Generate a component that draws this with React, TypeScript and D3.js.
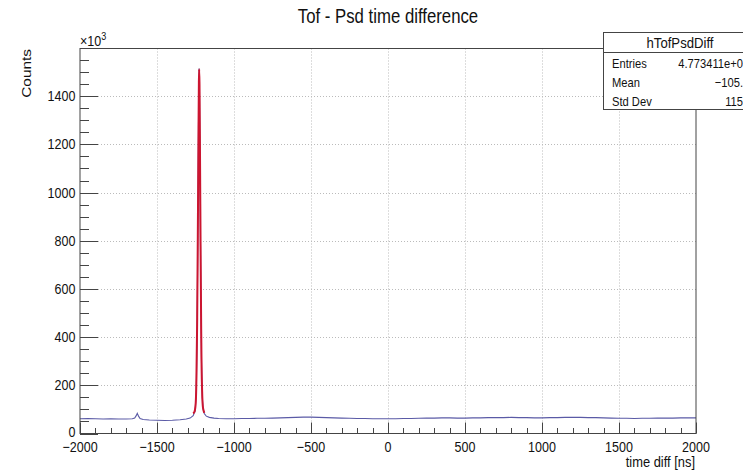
import * as d3 from "d3"
import type { ReactNode } from "react"

// histogram outline, counts in units of 10^3
const histTime = [
  -2000, -1950, -1900, -1850, -1800, -1750, -1700, -1660, -1645, -1635, -1628, -1620, -1610, -1590,
  -1550, -1500, -1450, -1400, -1350, -1310, -1285, -1265, -1252, -1245, -1240, -1236, -1232, -1229,
  -1227, -1225, -1222, -1219, -1215, -1211, -1206, -1200, -1192, -1180, -1160, -1130, -1100, -1050,
  -1000, -950, -900, -850, -800, -750, -700, -650, -600, -550, -500, -450, -400, -350, -300, -250,
  -200, -150, -100, -50, 0, 50, 100, 150, 200, 250, 300, 350, 400, 450, 500, 550, 600, 650, 700,
  750, 800, 850, 900, 950, 1000, 1050, 1100, 1150, 1200, 1250, 1300, 1350, 1400, 1450, 1500, 1550,
  1600, 1650, 1700, 1750, 1800, 1850, 1900, 1950, 2000,
]
const histCounts = [
  61, 62, 61, 60, 61, 60, 60, 61, 64, 74, 84, 72, 62, 58,
  56, 55, 54, 55, 57, 60, 64, 74, 95, 180, 380, 720, 1150, 1420,
  1515, 1490, 1250, 900, 560, 300, 150, 100, 82, 72, 67, 64, 62, 61,
  61, 62, 62, 63, 63, 64, 65, 66, 67, 68, 68, 67, 66, 65, 64, 63,
  62, 62, 61, 61, 61, 61, 62, 62, 63, 64, 64, 65, 65, 64, 64, 65, 65, 66, 66,
  66, 67, 66, 66, 65, 65, 66, 66, 67, 67, 67, 66, 66, 65, 64, 63, 63,
  62, 63, 63, 64, 64, 64, 65, 65, 65,
]

// fitted peak (red curve)
const fitTime = [-1266, -1258, -1250, -1244, -1239, -1235, -1231, -1228, -1226, -1224, -1221, -1217, -1213, -1208, -1201, -1193]
const fitCounts = [84, 88, 115, 230, 480, 820, 1200, 1460, 1512, 1450, 1180, 780, 430, 200, 105, 86]

const xTickValues = [-2000, -1500, -1000, -500, 0, 500, 1000, 1500, 2000]
const yTickValues = [0, 200, 400, 600, 800, 1000, 1200, 1400]

const statsLabels = ["Entries", "Mean", "Std Dev"]
const statsValues = ["4.773411e+0", "\u2212105.", "115"]

const W = 743
const H = 471
const frame = { left: 80, right: 696, top: 48.5, bottom: 433.5 }
const SQUEEZE = 0.86 // the original picture is squeezed horizontally

// text squeezed horizontally like the reference
function T({ x, y, size, anchor = "start", children }: {
  x: number; y: number; size: number; anchor?: string; children: ReactNode
}) {
  return (
    <text transform={`translate(${x},${y}) scale(${SQUEEZE},1)`} textAnchor={anchor} fontSize={size} fill="#111">
      {children}
    </text>
  )
}

export default function App() {
  const x = d3.scaleLinear().domain([-2000, 2000]).range([frame.left, frame.right])
  const y = d3.scaleLinear().domain([0, 1598]).range([frame.bottom, frame.top])

  const xMinor = d3.range(-2000, 2001, 100).filter(v => v % 500 !== 0)
  const yMinor = d3.range(0, 1598, 50).filter(v => v % 200 !== 0)

  const histLine = d3
    .line<number>()
    .x((_, i) => x(histTime[i]))
    .y(d => y(d))
  const fitLine = d3
    .line<number>()
    .x((_, i) => x(fitTime[i]))
    .y(d => y(d))
    .curve(d3.curveCatmullRom)

  const fmt = (v: number) => (v < 0 ? "\u2212" + Math.abs(v) : String(v))
  const px = (v: number) => Math.round(v) + 0.5

  return (
    <svg
      width={W}
      height={H}
      style={{ position: "absolute", left: 0, top: 0, background: "#fff" }}
      fontFamily="'Liberation Sans', Arial, sans-serif"
    >
      <rect width={W} height={H} fill="#fff" />

      {/* grid */}
      {xTickValues.slice(1, -1).map(v => (
        <line key={"gx" + v} x1={px(x(v))} x2={px(x(v))} y1={frame.top} y2={frame.bottom}
          stroke="#bbb" strokeDasharray="1,2" />
      ))}
      {yTickValues.slice(1).map(v => (
        <line key={"gy" + v} x1={frame.left} x2={frame.right} y1={px(y(v))} y2={px(y(v))}
          stroke="#bbb" strokeDasharray="1,2" />
      ))}

      {/* data */}
      <path d={histLine(histCounts) ?? ""} fill="none" stroke="#5a5aa6" strokeWidth={1.1} />
      <path d={fitLine(fitCounts) ?? ""} fill="none" stroke="#cc1530" strokeWidth={2} />

      {/* frame */}
      <rect x={frame.left} y={frame.top} width={frame.right - frame.left} height={frame.bottom - frame.top}
        fill="none" stroke="#444" strokeWidth={1} />

      {/* x ticks */}
      {xTickValues.map(v => (
        <line key={"xt" + v} x1={px(x(v))} x2={px(x(v))} y1={frame.bottom} y2={frame.bottom - 11} stroke="#444" />
      ))}
      {xMinor.map(v => (
        <line key={"xm" + v} x1={px(x(v))} x2={px(x(v))} y1={frame.bottom} y2={frame.bottom - 5.5} stroke="#444" />
      ))}
      {xTickValues.map(v => (
        <T key={"xl" + v} x={x(v)} y={452} anchor="middle" size={14.6}>{fmt(v)}</T>
      ))}

      {/* y ticks */}
      {yTickValues.map(v => (
        <line key={"yt" + v} x1={frame.left} x2={frame.left + 18} y1={px(y(v))} y2={px(y(v))} stroke="#444" />
      ))}
      {yMinor.map(v => (
        <line key={"ym" + v} x1={frame.left} x2={frame.left + 9} y1={px(y(v))} y2={px(y(v))} stroke="#444" />
      ))}
      {yTickValues.map(v => (
        <T key={"yl" + v} x={75.5} y={v === 0 ? y(v) + 3 : y(v) + 5} anchor="end" size={14.6}>{v}</T>
      ))}
      <T x={80} y={46} size={14.6}>
        ×10<tspan dy={-6} fontSize={10.5}>3</tspan>
      </T>

      {/* axis titles */}
      <T x={695} y={467} anchor="end" size={15}>time diff [ns]</T>
      <text transform={`translate(31,49) rotate(-90) scale(1,${SQUEEZE})`} textAnchor="end" fontSize={15.4} fill="#111">Counts</text>

      {/* title */}
      <T x={388} y={23} anchor="middle" size={19.5}>Tof - Psd time difference</T>

      {/* stats box */}
      <rect x={603.5} y={32.5} width={160} height={77} fill="#fff" stroke="#444" />
      <line x1={603.5} x2={743} y1={52.5} y2={52.5} stroke="#444" />
      <T x={680} y={48} anchor="middle" size={15.3}>hTofPsdDiff</T>
      {statsLabels.map((s, i) => (
        <T key={s} x={612} y={67.5 + i * 19} size={13}>{s}</T>
      ))}
      {statsValues.map((s, i) => (
        <T key={"v" + i} x={743} y={67.5 + i * 19} anchor="end" size={13}>{s}</T>
      ))}
    </svg>
  )
}
